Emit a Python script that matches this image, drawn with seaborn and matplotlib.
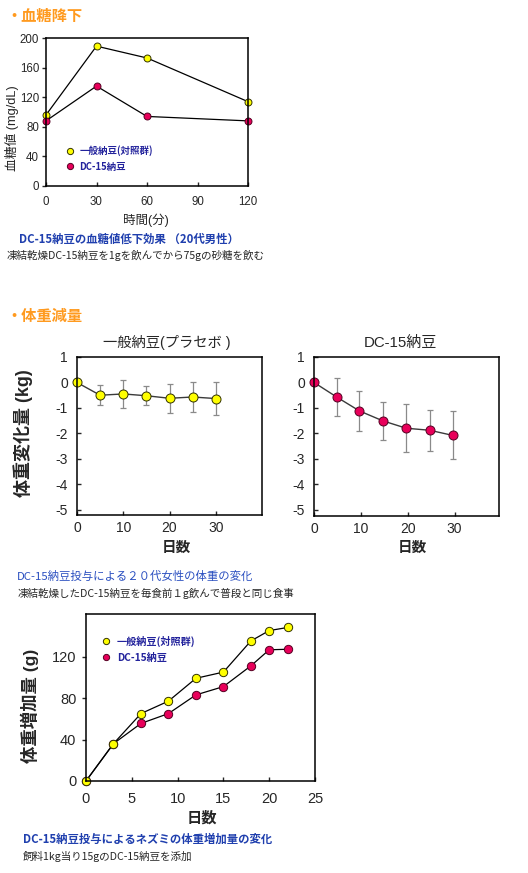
import matplotlib
matplotlib.use('Agg')
import matplotlib.pyplot as plt
from matplotlib.lines import Line2D
import seaborn as sns

# --- blood sugar (chart 1)
bs_time = [0, 30, 60, 120]
bs_normal = [96, 189, 173, 114]
bs_dc15 = [88, 135, 94, 88]

# --- body weight change (chart 2)
bw_days_normal = [0, 5, 10, 15, 20, 25, 30]
bw_normal = [0, -0.5, -0.45, -0.52, -0.62, -0.57, -0.63]
bw_normal_err = [0, 0.39, 0.54, 0.38, 0.57, 0.6, 0.66]
bw_days_dc15 = [0, 4.9, 9.7, 14.7, 19.7, 24.7, 29.6]
bw_dc15 = [0, -0.58, -1.12, -1.51, -1.8, -1.88, -2.08]
bw_dc15_err = [0, 0.75, 0.79, 0.74, 0.94, 0.81, 0.94]

# --- rat weight gain (chart 3)
rat_days = [0, 3, 6, 9, 12, 15, 18, 20, 22]
rat_normal = [0, 36, 65, 77, 99, 105, 135, 145, 148]
rat_dc15 = [0, 36, 55.5, 65, 83, 91, 111, 126.5, 127]

sns.set_style('ticks')
plt.rcParams['font.family'] = ['Liberation Sans', 'Noto Sans CJK JP']
plt.rcParams['axes.unicode_minus'] = False

W, H = 528, 873
YELLOW = '#ffff00'
RED = '#e8005a'
ORANGE = '#ff9a1f'
BLUE = '#1f3fae'
NAVY = '#23239c'
CJK = ['Noto Sans CJK JP', 'DejaVu Sans']


def rect(l, t, r, b):
    return [l / W, 1 - b / H, (r - l) / W, (b - t) / H]


def ftext(x, y, s, **kw):
    fig.text(x / W, 1 - y / H, s, **kw)


def style_axes(ax, xdir, ydir, size, xpad, ypad):
    for sp in ax.spines.values():
        sp.set_visible(True)
        sp.set_color('black')
        sp.set_linewidth(1.1)
    ax.tick_params(axis='x', direction=xdir, length=3, width=1, labelsize=size, pad=xpad, top=False)
    ax.tick_params(axis='y', direction=ydir, length=3, width=1, labelsize=size, pad=ypad, right=False)
    ax.set_xlabel('')
    ax.set_ylabel('')


fig = plt.figure(figsize=(W / 100, H / 100), dpi=100)

# ================= chart 1 =================
ax1 = fig.add_axes(rect(46, 38, 248, 186))
sns.lineplot(x=bs_time, y=bs_normal, ax=ax1, color='black', lw=0.9, marker='o', markersize=5,
             markerfacecolor=YELLOW, markeredgecolor='#333300', markeredgewidth=0.7, clip_on=False)
sns.lineplot(x=bs_time, y=bs_dc15, ax=ax1, color='black', lw=0.9, marker='o', markersize=5,
             markerfacecolor=RED, markeredgecolor='#550022', markeredgewidth=0.7, clip_on=False)
ax1.set_xlim(0, 120)
ax1.set_ylim(0, 200)
ax1.set_xticks([0, 30, 60, 90, 120])
ax1.set_yticks([0, 40, 80, 120, 160, 200])
style_axes(ax1, 'in', 'out', 8.3, 7.5, 2)
h1 = [Line2D([], [], ls='', marker='o', ms=4.5, mfc=YELLOW, mec='#333300', mew=0.7),
      Line2D([], [], ls='', marker='o', ms=4.5, mfc=RED, mec='#550022', mew=0.7)]
leg = ax1.legend(h1, ['一般納豆(対照群)', 'DC-15納豆'], loc='center left',
                 bbox_to_anchor=(0.08, 0.185), frameon=False, handlelength=0.8,
                 handletextpad=0.6, labelspacing=0.55, borderaxespad=0,
                 prop={'family': CJK, 'weight': 'bold', 'size': 6.8})
for t in leg.get_texts():
    t.set_color(NAVY)

ftext(6, 16, '・血糖降下', color=ORANGE, fontsize=11, fontweight='bold', family=CJK, va='center')
ftext(12, 128, '血糖値 (mg/dL)', rotation=90, fontsize=9.2, ha='center', va='center')
ftext(146, 220, '時間(分)', fontsize=9, ha='center', va='center')
ftext(19, 239, 'DC-15納豆の血糖値低下効果 （20代男性）', color=BLUE, fontsize=8.2,
      fontweight='bold', family=CJK, va='center')
ftext(7, 255, '凍結乾燥DC-15納豆を1gを飲んでから75gの砂糖を飲む', fontsize=7.6, family=CJK, va='center')

# ================= chart 2 =================
ax2 = fig.add_axes(rect(77, 357, 262, 515))
ax2.errorbar(bw_days_normal, bw_normal, yerr=bw_normal_err, fmt='none', ecolor='#8a8a8a',
             elinewidth=0.9, capsize=2, capthick=0.9)
sns.lineplot(x=bw_days_normal, y=bw_normal, ax=ax2, color='#3a3a3a', lw=1, marker='o', markersize=6.5,
             markerfacecolor=YELLOW, markeredgecolor='#333300', markeredgewidth=0.7, clip_on=False)
ax2.set_xlim(0, 40)
ax2.set_ylim(-5.2, 1)
ax2.set_xticks([0, 10, 20, 30])
ax2.set_yticks([1, 0, -1, -2, -3, -4, -5])
style_axes(ax2, 'in', 'in', 10, 4.5, 6.5)

ax3 = fig.add_axes(rect(314, 357, 499, 516))
ax3.errorbar(bw_days_dc15, bw_dc15, yerr=bw_dc15_err, fmt='none', ecolor='#8a8a8a',
             elinewidth=0.9, capsize=2, capthick=0.9)
sns.lineplot(x=bw_days_dc15, y=bw_dc15, ax=ax3, color='#3a3a3a', lw=1, marker='o', markersize=6.5,
             markerfacecolor=RED, markeredgecolor='#550022', markeredgewidth=0.7, clip_on=False)
ax3.set_xlim(0, 39.5)
ax3.set_ylim(-5.25, 1)
ax3.set_xticks([0, 10, 20, 30])
ax3.set_yticks([1, 0, -1, -2, -3, -4, -5])
style_axes(ax3, 'in', 'in', 10, 4.5, 6.5)

ftext(6, 316, '・体重減量', color=ORANGE, fontsize=11, fontweight='bold', family=CJK, va='center')
ftext(167, 343, '一般納豆(プラセボ )', fontsize=10.3, ha='center', va='center')
ftext(400, 343, 'DC-15納豆', fontsize=10.8, ha='center', va='center')
ftext(23, 433, '体重変化量 (kg)', rotation=90, fontsize=13, fontweight='bold', ha='center', va='center')
ftext(176, 548, '日数', fontsize=10.5, fontweight='bold', ha='center', va='center')
ftext(412, 548, '日数', fontsize=10.5, fontweight='bold', ha='center', va='center')
ftext(17, 576, 'DC-15納豆投与による２０代女性の体重の変化', color='#2a4fc0', fontsize=8.2,
      family=CJK, va='center')
ftext(18, 593, '凍結乾燥したDC-15納豆を毎食前１g飲んで普段と同じ食事', fontsize=7.6, family=CJK, va='center')

# ================= chart 3 =================
ax4 = fig.add_axes(rect(86, 614, 315, 781))
sns.lineplot(x=rat_days, y=rat_dc15, ax=ax4, color='black', lw=0.9, marker='o', markersize=6,
             markerfacecolor=RED, markeredgecolor='#550022', markeredgewidth=0.7, clip_on=False)
sns.lineplot(x=rat_days, y=rat_normal, ax=ax4, color='black', lw=0.9, marker='o', markersize=6,
             markerfacecolor=YELLOW, markeredgecolor='#333300', markeredgewidth=0.7, clip_on=False)
ax4.set_xlim(0, 25)
ax4.set_ylim(0, 161)
ax4.set_xticks([0, 5, 10, 15, 20, 25])
ax4.set_yticks([0, 40, 80, 120])
style_axes(ax4, 'in', 'out', 10.5, 8, 4)
leg2 = ax4.legend(h1, ['一般納豆(対照群)', 'DC-15納豆'], loc='center left',
                  bbox_to_anchor=(0.05, 0.79), frameon=False, handlelength=0.8,
                  handletextpad=0.7, labelspacing=0.6, borderaxespad=0,
                  prop={'family': CJK, 'weight': 'bold', 'size': 7.3})
for t in leg2.get_texts():
    t.set_color(NAVY)

ftext(30, 706, '体重増加量 (g)', rotation=90, fontsize=12.5, fontweight='bold', ha='center', va='center')
ftext(202, 818, '日数', fontsize=11, fontweight='bold', ha='center', va='center')
ftext(23, 839, 'DC-15納豆投与によるネズミの体重増加量の変化', color=BLUE, fontsize=8.2,
      fontweight='bold', family=CJK, va='center')
ftext(23, 856, '飼料1kg当り15gのDC-15納豆を添加', fontsize=7.6, family=CJK, va='center')

fig.savefig('out.png', dpi=100)
